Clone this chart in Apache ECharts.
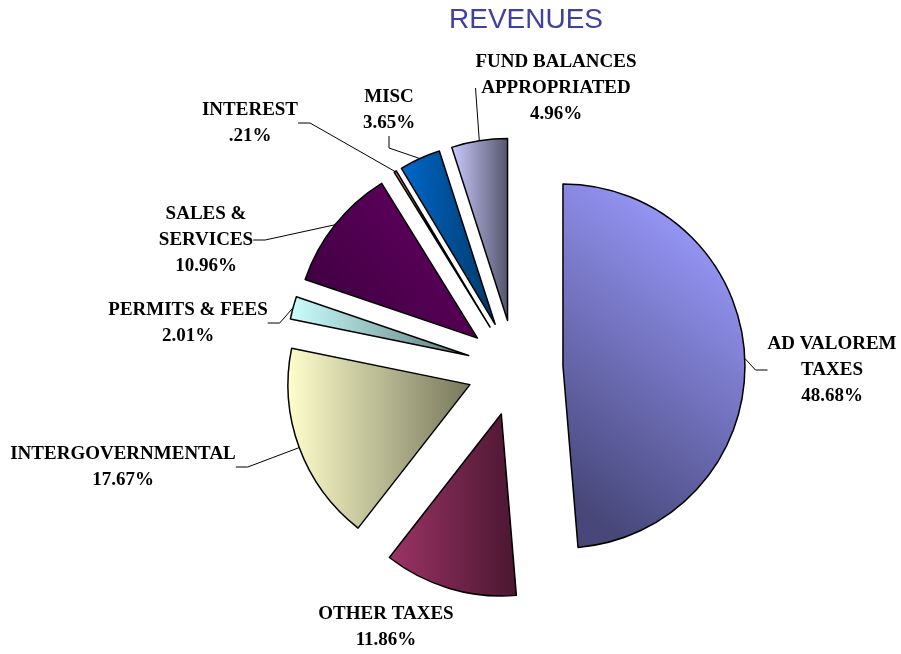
<!DOCTYPE html>
<html>
<head>
<meta charset="utf-8">
<script src="https://cdn.jsdelivr.net/npm/echarts@6/dist/echarts.min.js"></script>
<style>
html,body{margin:0;padding:0;background:#fff;}
#chart{width:901px;height:654px;}
</style>
</head>
<body>
<div id="chart"></div>
<script>
// ---- data ----
var categories = ['AD VALOREM\nTAXES', 'OTHER TAXES', 'INTERGOVERNMENTAL', 'PERMITS & FEES',
                  'SALES &\nSERVICES', 'INTEREST', 'MISC', 'FUND BALANCES\nAPPROPRIATED'];
var values = [48.68, 11.86, 17.67, 2.01, 10.96, 0.21, 3.65, 4.96];
var titleText = 'REVENUES';

// ---- styles / layout (not data) ----
var gradients = [
  {x:0, y:0.85, x2:1, y2:0.2, c0:'#47477a', c1:'#9898fa'},
  {x:0, y:0, x2:1, y2:0, c0:'#9c3466', c1:'#4a1630'},
  {x:0, y:0, x2:1, y2:0, c0:'#ffffcc', c1:'#76765c'},
  {x:0, y:0, x2:1, y2:0, c0:'#ccffff', c1:'#5a7878'},
  {x:1, y:0, x2:0, y2:1, c0:'#680068', c1:'#3a003a'},
  {x:0, y:0, x2:1, y2:0, c0:'#ff8888', c1:'#a05050'},
  {x:0, y:0, x2:1, y2:0, c0:'#0068cc', c1:'#003866'},
  {x:0, y:0, x2:1, y2:0, c0:'#ccccff', c1:'#54546c'}
];
var labelPos = [
  [832, 370], [386, 627], [123, 467], [188, 323],
  [206, 240], [250, 123], [389, 110], [556, 88]
];
var showLine = [true, false, true, true, true, true, true, true];
var pieCenter = [515, 368];
var pieRadius = 182;
var explode = 48;

function pctText(v) {
  var s = v.toFixed(2);
  if (s.charAt(0) === '0') s = s.slice(1);
  return s + '%';
}

var total = values.reduce(function (a, b) { return a + b; }, 0);

// one pie series per exploded slice; every series shares the same data,
// only its own slice is painted, shifted outward along its mid angle
var series = [];
var cum = 0;
values.forEach(function (v, k) {
  var mid = (cum + v / 2) / total * 2 * Math.PI;
  cum += v;
  var cx = pieCenter[0] + explode * Math.sin(mid);
  var cy = pieCenter[1] - explode * Math.cos(mid);
  var g = gradients[k];
  series.push({
    type: 'pie',
    center: [cx, cy],
    radius: [0, pieRadius],
    startAngle: 90,
    clockwise: true,
    silent: true,
    emphasis: {disabled: true},
    avoidLabelOverlap: false,
    label: {
      show: true,
      formatter: function (p) { return p.name + '\n' + pctText(p.value); },
      fontFamily: 'Liberation Serif',
      fontWeight: 'bold',
      fontSize: 19,
      lineHeight: 26,
      color: '#000',
      align: 'center'
    },
    labelLine: {show: showLine[k], length: 10, length2: 12, lineStyle: {color: '#000', width: 1}},
    labelLayout: function (p) {
      var pos = labelPos[p.dataIndex];
      return {x: pos[0], y: pos[1], align: 'center', verticalAlign: 'middle'};
    },
    data: categories.map(function (name, i) {
      if (i !== k) {
        return {name: name, value: values[i],
          itemStyle: {color: 'rgba(0,0,0,0)', borderWidth: 0},
          label: {show: false}, labelLine: {show: false}};
      }
      return {
        name: name, value: values[i],
        itemStyle: {
          color: new echarts.graphic.LinearGradient(g.x, g.y, g.x2, g.y2, [
            {offset: 0, color: g.c0}, {offset: 1, color: g.c1}
          ]),
          borderColor: '#000', borderWidth: 1.5
        }
      };
    })
  });
});

var chart = echarts.init(document.getElementById('chart'), null, {renderer: 'canvas'});
chart.setOption({
  animation: false,
  backgroundColor: '#ffffff',
  title: {
    text: titleText,
    left: 521, top: 1, textAlign: 'center',
    textStyle: {fontFamily: 'Liberation Sans', fontSize: 28, fontWeight: 'normal', color: '#4040a0'}
  },
  series: series
});
</script>
</body>
</html>
